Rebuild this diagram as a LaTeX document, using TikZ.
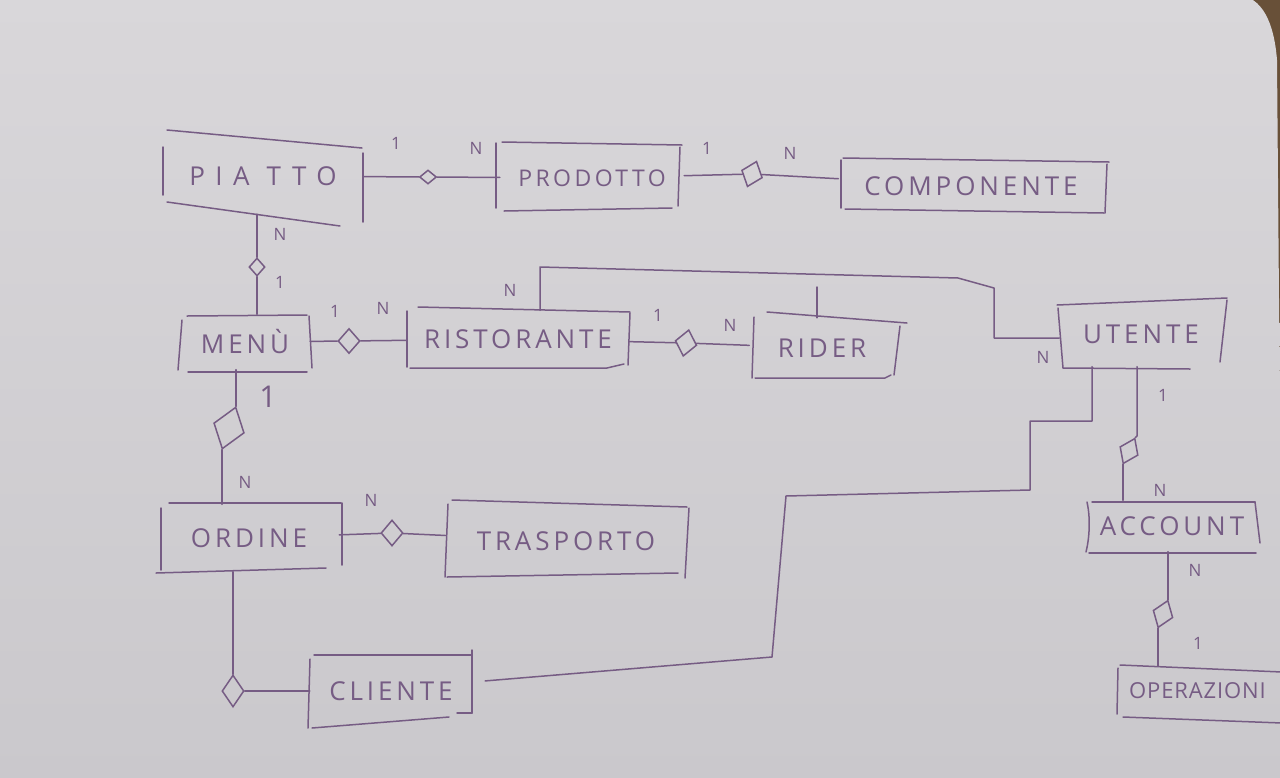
\documentclass[tikz,border=0pt]{standalone}
\usepackage{fontspec}
\usetikzlibrary{shapes.geometric}
\newfontfamily\hand[LetterSpace=15]{Open Sans}
\newfontfamily\handwide[LetterSpace=40]{Open Sans}
\newfontfamily\handtight[LetterSpace=4]{Open Sans}
\definecolor{ink}{RGB}{118,92,132}
\definecolor{paperA}{RGB}{217,215,218}
\definecolor{paperB}{RGB}{202,200,204}
\definecolor{desk}{RGB}{104,80,56}
\begin{document}
\begin{tikzpicture}[x=1pt,y=-1pt,
  sk/.style={draw=ink,line width=1.5pt,line cap=round,line join=round},
  ent/.style={draw=none,inner sep=0pt,text=ink,font=\hand\fontsize{26}{26}\selectfont},
  rel/.style={shape=diamond,draw=ink,line width=1.5pt,inner sep=0pt},
  card/.style={text=ink,inner sep=0pt,font=\hand\fontsize{17}{17}\selectfont}]
\useasboundingbox (0,0) rectangle (1280,777);
\clip (0,0) rectangle (1280,777);
% paper
\fill[desk] (0,0) rectangle (1280,777);
\shade[top color=paperA,bottom color=paperB] (-5,-5) -- (1238,-5) .. controls (1262,-3) and (1274,22) .. (1277,60) -- (1279,300) -- (1284,782) -- (-5,782) -- cycle;

% ---------- entity nodes ----------
\node[ent,minimum width=200pt,minimum height=76pt,font=\handwide\fontsize{26}{26}\selectfont] (piatto) at (263,176) {PIA TTO};
\node[ent,minimum width=184pt,minimum height=65pt,font=\hand\fontsize{23}{23}\selectfont] (prodotto) at (592,178) {PRODOTTO};
\node[ent,minimum width=265pt,minimum height=51pt] (componente) at (971,186) {COMPONENTE};
\node[ent,minimum width=130pt,minimum height=55pt] (menu) at (245,342) {MENÙ};
\node[ent,minimum width=222pt,minimum height=57pt] (ristorante) at (518,339) {RISTORANTE};
\node[ent,minimum width=145pt,minimum height=60pt] (rider) at (822,348) {RIDER};
\node[ent,minimum width=163pt,minimum height=65pt] (utente) at (1141,334) {UTENTE};
\node[ent,minimum width=180pt,minimum height=67pt] (ordine) at (249,538) {ORDINE};
\node[ent,minimum width=241pt,minimum height=72pt] (trasporto) at (566,541) {TRASPORTO};
\node[ent,minimum width=162pt,minimum height=69pt] (cliente) at (391,691) {CLIENTE};
\node[ent,minimum width=170pt,minimum height=51pt] (account) at (1172,526) {ACCOUNT};
\node[ent,anchor=west,minimum height=50pt,font=\handtight\fontsize{22}{22}\selectfont] (operazioni) at (1129,691) {OPERAZIONI};

% ---------- sketchy box outlines ----------
% PIATTO
\draw[sk] (167,130) -- (362,148);
\draw[sk] (163,147) -- (163,195);
\draw[sk] (167,202) -- (340,226);
\draw[sk] (363,153) -- (363,222);
% PRODOTTO
\draw[sk] (496,143) -- (496,208);
\draw[sk] (502,142) -- (682,145);
\draw[sk] (680,147) -- (678,206);
\draw[sk] (504,211) -- (672,208);
% COMPONENTE
\draw[sk] (843,158) -- (1109,162);
\draw[sk] (841,160) -- (841,208);
\draw[sk] (1107,164) -- (1105,213);
\draw[sk] (845,209) -- (1104,213);
% MENU
\draw[sk] (187,316) -- (307,315);
\draw[sk] (182,320) -- (178,370);
\draw[sk] (188,372) -- (307,372);
\draw[sk] (309,316) -- (312,368);
% RISTORANTE
\draw[sk] (418,307) -- (630,312);
\draw[sk] (407,311) -- (407,367);
\draw[sk] (410,368) -- (607,368) -- (624,364);
\draw[sk] (630,313) -- (628,365);
% RIDER
\draw[sk] (767,312) -- (907,323);
\draw[sk] (754,317) -- (752,378);
\draw[sk] (755,378) -- (885,378) -- (891,375);
\draw[sk] (900,326) -- (894,375);
% UTENTE
\draw[sk] (1057,305) -- (1227,298);
\draw[sk] (1058,308) -- (1063,368);
\draw[sk] (1063,368) -- (1190,369);
\draw[sk] (1227,300) -- (1220,362);
% ACCOUNT
\draw[sk] (1092,502) -- (1255,502);
\draw[sk] (1087,502) .. controls (1091,520) and (1089,540) .. (1086,552);
\draw[sk] (1089,553) -- (1256,553);
\draw[sk] (1255,502) -- (1260,543);
% OPERAZIONI
\draw[sk] (1120,665) -- (1282,672);
\draw[sk] (1118,668) -- (1117,714);
\draw[sk] (1123,717) -- (1282,723);
% ORDINE
\draw[sk] (169,503) -- (341,503);
\draw[sk] (161,508) -- (161,570);
\draw[sk] (156,573) -- (326,568);
\draw[sk] (342,503) -- (342,565);
% TRASPORTO
\draw[sk] (452,500) -- (687,507);
\draw[sk] (448,504) -- (445,577);
\draw[sk] (447,577) -- (678,573);
\draw[sk] (689,508) -- (685,578);
% CLIENTE
\draw[sk] (314,655) -- (472,655);
\draw[sk] (310,659) -- (308,728);
\draw[sk] (312,728) -- (449,717);
\draw[sk] (457,713) -- (472,713);
\draw[sk] (472,650) -- (472,713);

% ---------- relationship diamonds ----------
\node[rel,minimum width=17pt,minimum height=14pt] (d1) at (428,177) {};
\node[rel,minimum width=22pt,minimum height=27pt,rotate=-20] (d2) at (752,174) {};
\node[rel,minimum width=16pt,minimum height=18pt] (d3) at (257,267) {};
\node[rel,minimum width=22pt,minimum height=25pt] (d4) at (349,341) {};
\node[rel,minimum width=22pt,minimum height=27pt,rotate=-12] (d5) at (686,343) {};
\node[rel,minimum width=32pt,minimum height=44pt,rotate=-18] (d6) at (229,428) {};
\node[rel,minimum width=22pt,minimum height=32pt] (d7) at (233,691) {};
\node[rel,minimum width=22pt,minimum height=26pt] (d8) at (392,533) {};
\node[rel,minimum width=20pt,minimum height=28pt,rotate=-25] (d9) at (1129,451) {};
\node[rel,minimum width=21pt,minimum height=29pt,rotate=-20] (d10) at (1163,614) {};

% ---------- connectors ----------
\draw[sk] (piatto) -- (d1);
\draw[sk] (d1) -- (prodotto);
\draw[sk] (prodotto) -- (d2);
\draw[sk] (d2) -- (componente);
\draw[sk] (d3 |- piatto.south) -- (d3.north);
\draw[sk] (d3.south) -- (d3 |- menu.north);
\draw[sk] (menu) -- (d4);
\draw[sk] (d4) -- (ristorante);
\draw[sk] (ristorante) -- (d5);
\draw[sk] (d5) -- (rider);
\draw[sk] (d6.north |- menu.south) -- (d6.north);
\draw[sk] (d6.south) -- (d6.south |- ordine.north);
\draw[sk] (ordine) -- (d8);
\draw[sk] (d8) -- (trasporto);
\draw[sk] (d7.north |- ordine.south) -- (d7.north);
\draw[sk] (d7.east) -- (d7.east -| cliente.west);
% RISTORANTE -- UTENTE
\coordinate (r1) at (540,267);
\coordinate (r2) at (958,278);
\coordinate (r3) at (994,288);
\coordinate (r4) at (994,338);
\draw[sk] (r1 |- ristorante.north) -- (r1) -- (r2) -- (r3) -- (r4) -- (r4 -| utente.west);
% RIDER up
\coordinate (r5) at (817,287);
\draw[sk] (r5 |- rider.north) -- (r5);
% UTENTE -- CLIENTE
\coordinate (c1) at (1092,421);
\coordinate (c2) at (1030,421);
\coordinate (c3) at (1030,490);
\coordinate (c4) at (786,496);
\coordinate (c5) at (772,657);
\draw[sk,shorten >=13pt] (c1 |- utente.south) -- (c1) -- (c2) -- (c3) -- (c4) -- (c5) -- ([yshift=9pt]cliente.east);
% UTENTE -- ACCOUNT
\coordinate (u2) at (1137,436);
\draw[sk] (u2 |- utente.south) -- (u2) -- (d9.north);
\draw[sk] (d9.south) -- (d9.south |- account.north);
% ACCOUNT -- OPERAZIONI
\draw[sk] (d10.north |- account.south) -- (d10.north);
\draw[sk] (d10.south) -- (d10.south |- operazioni.north);

% ---------- cardinalities ----------
\node[card] (k1) at (396,143) {1};
\node[card] (k2) at (476,148) {N};
\node[card] (k3) at (707,148) {1};
\node[card] (k4) at (790,153) {N};
\node[card] (k5) at (280,234) {N};
\node[card] (k6) at (280,282) {1};
\node[card] (k7) at (335,311) {1};
\node[card] (k8) at (383,308) {N};
\node[card] (k9) at (658,315) {1};
\node[card] (k10) at (730,325) {N};
\node[card] (k11) at (510,290) {N};
\node[card] (k12) at (1043,357) {N};
\node[card,font=\hand\fontsize{30}{30}\selectfont] (k13) at (268,397) {1};
\node[card] (k14) at (245,482) {N};
\node[card] (k15) at (371,500) {N};
\node[card] (k16) at (1163,395) {1};
\node[card] (k17) at (1160,490) {N};
\node[card] (k18) at (1195,570) {N};
\node[card] (k19) at (1198,643) {1};
\end{tikzpicture}
\end{document}
